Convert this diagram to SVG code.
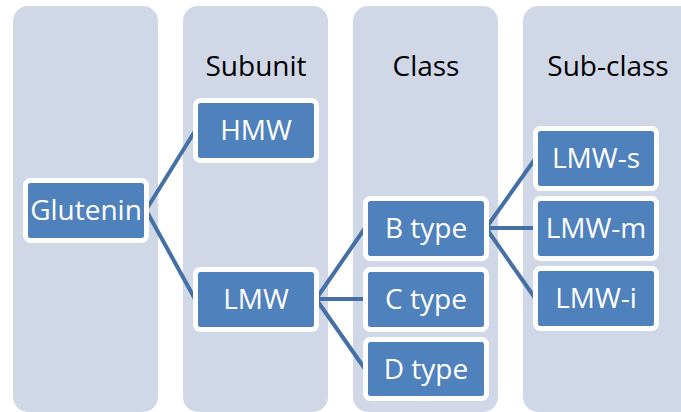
<svg xmlns="http://www.w3.org/2000/svg" width="681" height="412" viewBox="0 0 681 412">
<style>
.col{fill:#D0D8E8}
.node rect{fill:#4F81BD;stroke:#FFFFFF;stroke-width:5}
.node text{fill:#FFFFFF;font-family:"Open Sans","Liberation Sans",sans-serif;font-size:28px;text-anchor:middle}
.hdr{fill:#000000;font-family:"Open Sans","Liberation Sans",sans-serif;font-size:28px;text-anchor:middle}
.conn line{stroke:#4570A6;stroke-width:4;stroke-linecap:butt}
</style>
<rect width="681" height="412" fill="#FFFFFF"/>
<g id="columns">
<rect class="col" x="13" y="6" width="145" height="406" rx="15"/>
<rect class="col" x="183" y="6" width="145" height="406" rx="15"/>
<rect class="col" x="353" y="6" width="145" height="406" rx="15"/>
<rect class="col" x="523" y="6" width="175" height="406" rx="15"/>
<text class="hdr" x="256" y="76">Subunit</text>
<text class="hdr" x="426" y="76">Class</text>
<text class="hdr" x="608" y="76">Sub-class</text>
</g>
<g id="connectors" class="conn">
<line x1="146" y1="210" x2="195" y2="131"/>
<line x1="146" y1="210" x2="195" y2="299"/>
<line x1="316" y1="299" x2="365" y2="228"/>
<line x1="316" y1="299" x2="365" y2="299"/>
<line x1="316" y1="299" x2="365" y2="369"/>
<line x1="486" y1="228" x2="535" y2="159"/>
<line x1="486" y1="228" x2="535" y2="228"/>
<line x1="486" y1="228" x2="535" y2="298"/>
</g>
<g id="glutenin" class="node"><rect x="25.5" y="180.5" width="121" height="60" rx="5"/><text x="86" y="219.5">Glutenin</text></g>
<g id="hmw" class="node"><rect x="195.5" y="100.5" width="121" height="60" rx="5"/><text x="256" y="139.5">HMW</text></g>
<g id="lmw" class="node"><rect x="195.5" y="269.5" width="121" height="60" rx="5"/><text x="256" y="308.5">LMW</text></g>
<g id="btype" class="node"><rect x="365.5" y="198.5" width="121" height="60" rx="5"/><text x="426" y="237.5">B type</text></g>
<g id="ctype" class="node"><rect x="365.5" y="269.5" width="121" height="60" rx="5"/><text x="426" y="308.5">C type</text></g>
<g id="dtype" class="node"><rect x="365.5" y="339.5" width="121" height="59" rx="5"/><text x="426" y="378.5">D type</text></g>
<g id="lmw-s" class="node"><rect x="535.5" y="128.5" width="121" height="60" rx="5"/><text x="596" y="167.5">LMW-s</text></g>
<g id="lmw-m" class="node"><rect x="535.5" y="198.5" width="121" height="60" rx="5"/><text x="596" y="237.5">LMW-m</text></g>
<g id="lmw-i" class="node"><rect x="535.5" y="268.5" width="121" height="60" rx="5"/><text x="596" y="307.5">LMW-i</text></g>
</svg>
